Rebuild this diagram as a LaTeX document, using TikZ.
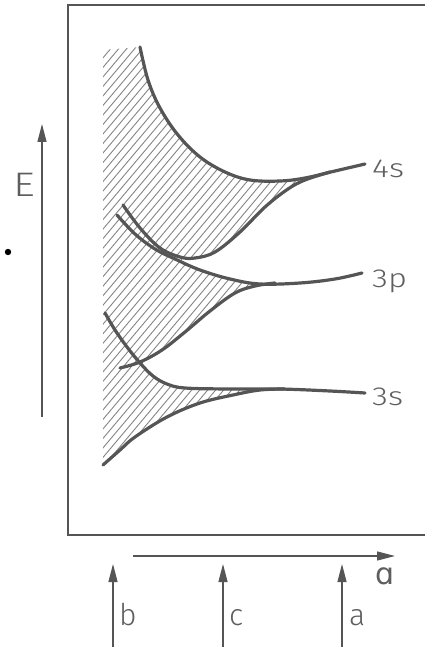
\documentclass[tikz,border=0pt]{standalone}
\usepackage{fontspec}
\setmainfont{Fira Sans Light}
\newfontfamily\labfont{Fira Sans Light}[FakeStretch=1.25]
\newfontfamily\ipafont{DejaVu Sans}
\usetikzlibrary{arrows.meta}
\definecolor{ink}{HTML}{555555}
\definecolor{txt}{HTML}{5E5E5E}
\definecolor{hatchc}{HTML}{858585}
\begin{document}
\begin{tikzpicture}[x=1pt,y=-1pt,
  curve/.style={line width=3.2pt, draw=ink, line cap=round, line join=round},
  frameline/.style={line width=1.4pt, draw=ink},
  hatchline/.style={line width=0.9pt, draw=hatchc},
  axisarrow/.style={line width=1.3pt, draw=ink, -{Triangle[length=18pt,width=9pt]}},
  lab/.style={text=txt, inner sep=0pt, font=\labfont\fontsize{26}{26}\selectfont},
  biglab/.style={text=txt, inner sep=0pt, font=\fontsize{30}{30}\selectfont}]
\useasboundingbox (0,0) rectangle (424,647);
% frame
\draw[frameline] (430,5) -- (68,5) -- (68,535) -- (430,535);
% hatching
\begin{scope}
\clip (103,50)
  -- plot[smooth,tension=0.6] coordinates {(140,47) (148,80) (160,108) (178,135) (200,157) (225,172) (250,180) (280,181) (305,178)}
  -- plot[smooth,tension=0.6] coordinates {(305,180) (288,189) (265,207) (240,232) (215,252) (195,258) (185,259)}
  -- plot[smooth,tension=0.6] coordinates {(185,263) (200,270) (230,279) (260,284) (275,284)}
  -- plot[smooth,tension=0.6] coordinates {(275,283) (255,286) (235,293) (210,311) (185,332) (162,350) (143,361)}
  -- plot[smooth,tension=0.6] coordinates {(143,366) (153,376) (167,384) (185,388) (230,389) (270,389)}
  -- plot[smooth,tension=0.6] coordinates {(270,390) (260,390) (233,395) (200,403) (167,417) (135,437) (120,450) (103,465)}
  -- cycle;
\foreach \c in {-300,-292,...,320} \draw[hatchline] (\c,480) -- ({\c+370},40);
\end{scope}
% curves
\draw[curve] plot[smooth,tension=0.6] coordinates {(140,47) (148,80) (160,108) (178,135) (200,157) (225,172) (250,180) (280,181) (305,178) (335,171) (365,164)};
\draw[curve] plot[smooth,tension=0.6] coordinates {(123,205) (140,228) (160,248) (180,257) (195,258) (215,252) (240,232) (265,207) (288,189) (305,180) (330,172)};
\draw[curve] plot[smooth,tension=0.6] coordinates {(117,215) (135,234) (155,249) (175,259) (200,270) (230,279) (260,284) (300,283) (335,279) (362,273)};
\draw[curve] plot[smooth,tension=0.6] coordinates {(120,368) (140,362) (162,350) (185,332) (210,311) (235,293) (255,286) (275,283)};
\draw[curve] plot[smooth,tension=0.6] coordinates {(105,313) (115,330) (127,347) (140,363) (153,376) (167,384) (185,388) (230,389) (280,389) (330,391) (365,393)};
\draw[curve] plot[smooth,tension=0.6] coordinates {(103,465) (120,450) (135,437) (167,417) (200,403) (233,395) (260,390) (285,389)};
% level labels
\node[lab, anchor=base west] (l4s) at (372,178) {4s};
\node[lab, anchor=base west] (l3p) at (372,287) {3p};
\node[lab, anchor=base west] (l3s) at (372,405) {3s};
% energy axis
\coordinate (Ebot) at (42,417);
\coordinate (Etop) at (42,124);
\draw[axisarrow] (Ebot) -- (Etop);
\node[lab, font=\labfont\fontsize{34}{34}\selectfont] (E) at (24,185) {E};
\fill[black] (8,252) circle (3.2);
% lattice axis
\coordinate (xs) at (133,556);
\coordinate (xe) at (395,556);
\draw[axisarrow] (xs) -- (xe);
\node[biglab] (alpha) at (385,576) {\ipafont ɑ};
% bottom arrows
\coordinate (bb) at (113,650);
\coordinate (bt) at (113,564);
\draw[axisarrow] (bb) -- (bt);
\node[biglab, anchor=base west] (lb) at (119,625) {b};
\coordinate (cb) at (223,650);
\coordinate (ct) at (223,564);
\draw[axisarrow] (cb) -- (ct);
\node[biglab, anchor=base west] (lc) at (229,625) {c};
\coordinate (ab) at (342,650);
\coordinate (at) at (342,564);
\draw[axisarrow] (ab) -- (at);
\node[biglab, anchor=base west] (la) at (349,625) {a};
\end{tikzpicture}
\end{document}
